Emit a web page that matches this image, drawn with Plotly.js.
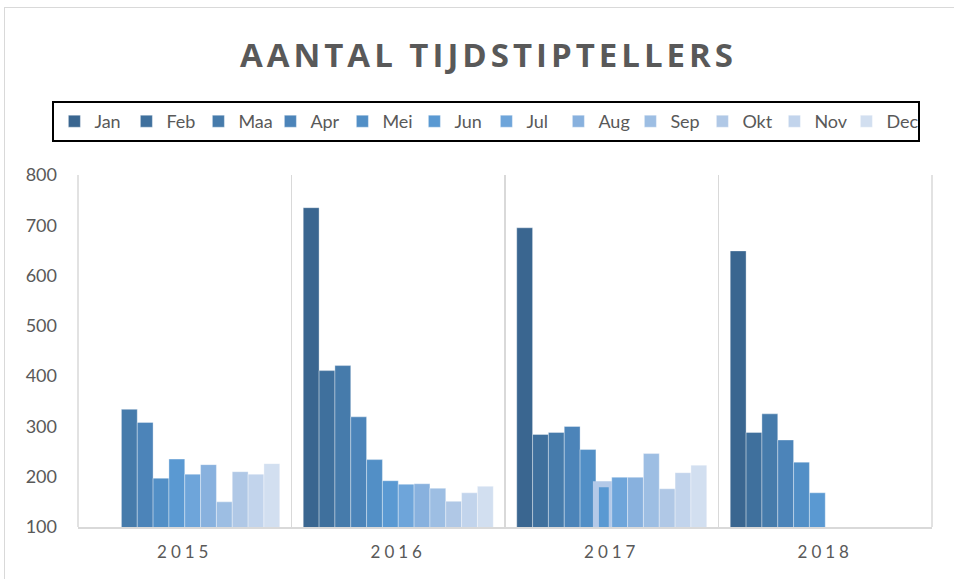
<!DOCTYPE html>
<html>
<head>
<meta charset="utf-8">
<script src="https://cdn.plot.ly/plotly-3.0.1.min.js"></script>
<style>
  html, body { margin: 0; padding: 0; background: #fff; }
  #frame { position: absolute; left: 4px; top: 7px; width: 980px; height: 620px; border: 1px solid #d9d9d9; box-sizing: border-box; }
  #chart { position: absolute; left: 0; top: 0; width: 954px; height: 579px; }
  .gtitle { letter-spacing: 4px; }
  .xtick text { letter-spacing: 4px; }
</style>
</head>
<body>
<div id="frame"></div>
<div id="chart"></div>
<script>
// ---- data ----
var years = ['2015', '2016', '2017', '2018'];
var months = ['Jan', 'Feb', 'Maa', 'Apr', 'Mei', 'Jun', 'Jul', 'Aug', 'Sep', 'Okt', 'Nov', 'Dec'];
var jan = [null, 735, 695, 649];
var feb = [null, 411, 284, 288];
var maa = [334, 421, 288, 325];
var apr = [308, 319, 300, 273];
var mei = [197, 234, 254, 229];
var jun = [235, 192, 185, 168];
var jul = [205, 185, 199, null];
var aug = [224, 186, 199, null];
var sep = [150, 177, 246, null];
var okt = [210, 151, 176, null];
var nov = [205, 168, 208, null];
var dec = [226, 181, 223, null];
var seriesValues = [jan, feb, maa, apr, mei, jun, jul, aug, sep, okt, nov, dec];

// ---- styles ----
var colors = ['#3a6690', '#3f709d', '#467bab', '#4c84b9', '#528fc6', '#5a99d2',
              '#6ea5da', '#88b1de', '#9dbee3', '#b0c8e6', '#c2d4ec', '#d2dff0'];
var textColor = '#595959';
var gridColor = '#d9d9d9';

var traces = months.map(function (m, i) {
  var lineColor = 'rgba(255,255,255,0.35)';
  var lineWidth = 1;
  if (m === 'Jun') { // selected-point outline seen in the reference
    lineColor = ['rgba(255,255,255,0.35)', 'rgba(255,255,255,0.35)', '#b3c9e8', 'rgba(255,255,255,0.35)'];
    lineWidth = [1, 1, 6, 1];
  }
  return {
    type: 'bar',
    name: m,
    x: years,
    y: seriesValues[i],
    marker: { color: colors[i], line: { color: lineColor, width: lineWidth } },
    hoverinfo: 'x+y+name'
  };
});

var layout = {
  width: 954,
  height: 579,
  paper_bgcolor: 'rgba(0,0,0,0)',
  plot_bgcolor: 'rgba(0,0,0,0)',
  margin: { l: 78, r: 22, t: 175, b: 52 },
  barmode: 'group',
  bargap: 0.11,
  bargroupgap: 0,
  font: { family: 'Lato, "Open Sans", sans-serif', color: textColor },
  title: {
    text: 'AANTAL TIJDSTIPTELLERS',
    font: { family: '"Open Sans", sans-serif', size: 33, color: textColor, weight: 'bold' },
    x: 0.512, xanchor: 'center', xref: 'container',
    y: 1 - 55 / 579, yanchor: 'middle', yref: 'container'
  },
  showlegend: true,
  legend: {
    orientation: 'h',
    x: -0.03, xanchor: 'left',
    y: 1 + (175 - 101) / 352, yanchor: 'top',
    bordercolor: '#000', borderwidth: 2,
    font: { size: 18, color: textColor },
    entrywidth: 27,
    entrywidthmode: 'pixels',
    traceorder: 'normal'
  },
  xaxis: {
    type: 'category',
    range: [-0.5, 3.5],
    tickson: 'boundaries',
    ticks: '',
    showgrid: true,
    gridcolor: gridColor,
    gridwidth: 1.5,
    showline: true,
    linecolor: gridColor,
    linewidth: 1.5,
    ticklabelstandoff: 9,
    tickfont: { size: 17, color: textColor },
    fixedrange: true
  },
  yaxis: {
    range: [100, 800],
    dtick: 100,
    tick0: 100,
    showgrid: false,
    zeroline: false,
    showline: false,
    ticks: '',
    ticklabelstandoff: 20,
    tickfont: { size: 18, color: textColor },
    fixedrange: true
  },
  shapes: [
    { type: 'line', xref: 'paper', yref: 'paper', x0: 0, x1: 0, y0: 0, y1: 1, line: { color: gridColor, width: 1.5 } },
    { type: 'line', xref: 'paper', yref: 'paper', x0: 1, x1: 1, y0: 0, y1: 1, line: { color: gridColor, width: 1.5 } }
  ]
};

Plotly.newPlot('chart', traces, layout, { displayModeBar: false, staticPlot: true });
</script>
</body>
</html>
